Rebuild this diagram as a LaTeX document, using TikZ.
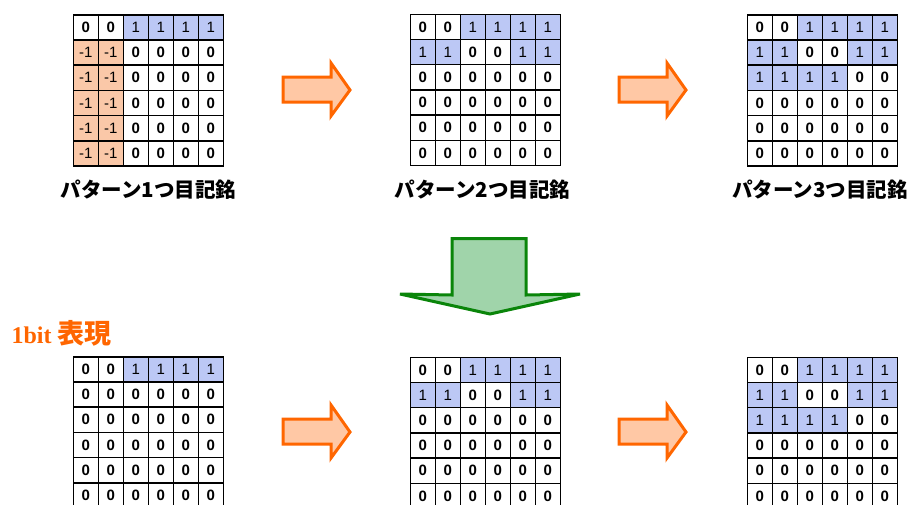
\documentclass[tikz,border=0pt]{standalone}
\usepackage{fontspec}
\setmainfont{Liberation Sans}
\newfontfamily\jpfont{Noto Sans CJK JP}
\newfontfamily\titrefont{Liberation Serif}
\usetikzlibrary{calc}

\definecolor{bleucase}{HTML}{BCC8F5}
\definecolor{orangecase}{HTML}{FAC8A8}
\definecolor{orangetrait}{HTML}{FF6600}
\definecolor{orangefond}{HTML}{FFC8A5}
\definecolor{verttrait}{HTML}{0A850A}
\definecolor{vertfond}{HTML}{A0D4AA}

\tikzset{
  case/.style={draw=black, line width=1.5pt, minimum width=25pt, minimum height=25.2pt,
    inner sep=0pt, anchor=north west, font=\fontsize{15}{15}\selectfont},
  casez/.style={fill=white, font=\fontsize{15}{15}\selectfont\bfseries, node contents={0}},
  caseb/.style={fill=bleucase, node contents={1}},
  caseo/.style={fill=orangecase, node contents={-1}},
  fleche/.style={draw=orangetrait, fill=orangefond, line width=3pt, line join=miter},
  legende/.style={font=\jpfont\bfseries\fontsize{20.5}{20.5}\selectfont}
}

% grille 6x6 : #1 nom, #2 coin haut gauche, #3 lignes
\newcommand{\grille}[3]{
  \begin{scope}[shift={#2}]
    \foreach \ligne [count=\r] in {#3} {
      \foreach \c [count=\k] in \ligne {
        \node (#1-\r-\k) at ({(\k-1)*25},{(\r-1)*25.2}) [case, case\c];
      }
    }
  \end{scope}
}

\begin{document}
\begin{tikzpicture}[x=1pt,y=-1pt]
  \useasboundingbox (0,0) rectangle (911,504);

  %GRILLES DU HAUT
  \grille{h1}{(72.5,14)}{{z,z,b,b,b,b},{o,o,z,z,z,z},{o,o,z,z,z,z},{o,o,z,z,z,z},{o,o,z,z,z,z},{o,o,z,z,z,z}}
  \grille{h2}{(409.5,13.5)}{{z,z,b,b,b,b},{b,b,z,z,b,b},{z,z,z,z,z,z},{z,z,z,z,z,z},{z,z,z,z,z,z},{z,z,z,z,z,z}}
  \grille{h3}{(746.5,14)}{{z,z,b,b,b,b},{b,b,z,z,b,b},{b,b,b,b,z,z},{z,z,z,z,z,z},{z,z,z,z,z,z},{z,z,z,z,z,z}}

  \node[legende] (l1) at (148.5,190) {パターン1つ目記銘};
  \node[legende] (l2) at (482.5,190) {パターン2つ目記銘};
  \node[legende] (l3) at (820,190) {パターン3つ目記銘};

  %GRILLES DU BAS
  \node[anchor=west, text=orangetrait, font=\bfseries] (titre) at (8,333)
    {\titrefont\fontsize{24}{24}\selectfont 1bit\hspace{6pt}\jpfont\fontsize{27}{27}\selectfont 表現};
  \grille{b1}{(72.5,356)}{{z,z,b,b,b,b},{z,z,z,z,z,z},{z,z,z,z,z,z},{z,z,z,z,z,z},{z,z,z,z,z,z},{z,z,z,z,z,z}}
  \grille{b2}{(409.5,356.5)}{{z,z,b,b,b,b},{b,b,z,z,b,b},{z,z,z,z,z,z},{z,z,z,z,z,z},{z,z,z,z,z,z},{z,z,z,z,z,z}}
  \grille{b3}{(746.5,356.5)}{{z,z,b,b,b,b},{b,b,z,z,b,b},{b,b,b,b,z,z},{z,z,z,z,z,z},{z,z,z,z,z,z},{z,z,z,z,z,z}}

  %FLECHES
  \foreach \dx in {283,619} {
    \foreach \dy in {0,342} {
      \draw[fleche] (\dx,77+\dy) -- (\dx+48,77+\dy) -- (\dx+48,63+\dy) -- (\dx+67,90+\dy)
        -- (\dx+48,116+\dy) -- (\dx+48,102+\dy) -- (\dx,102+\dy) -- cycle;
    }
  }
  \draw[draw=verttrait, fill=vertfond, line width=3pt, line join=miter]
    (452,238.5) -- (526,238.5) -- (526,295) -- (580,294) -- (490,314)
    -- (400,294) -- (452,295) -- cycle;
\end{tikzpicture}
\end{document}
